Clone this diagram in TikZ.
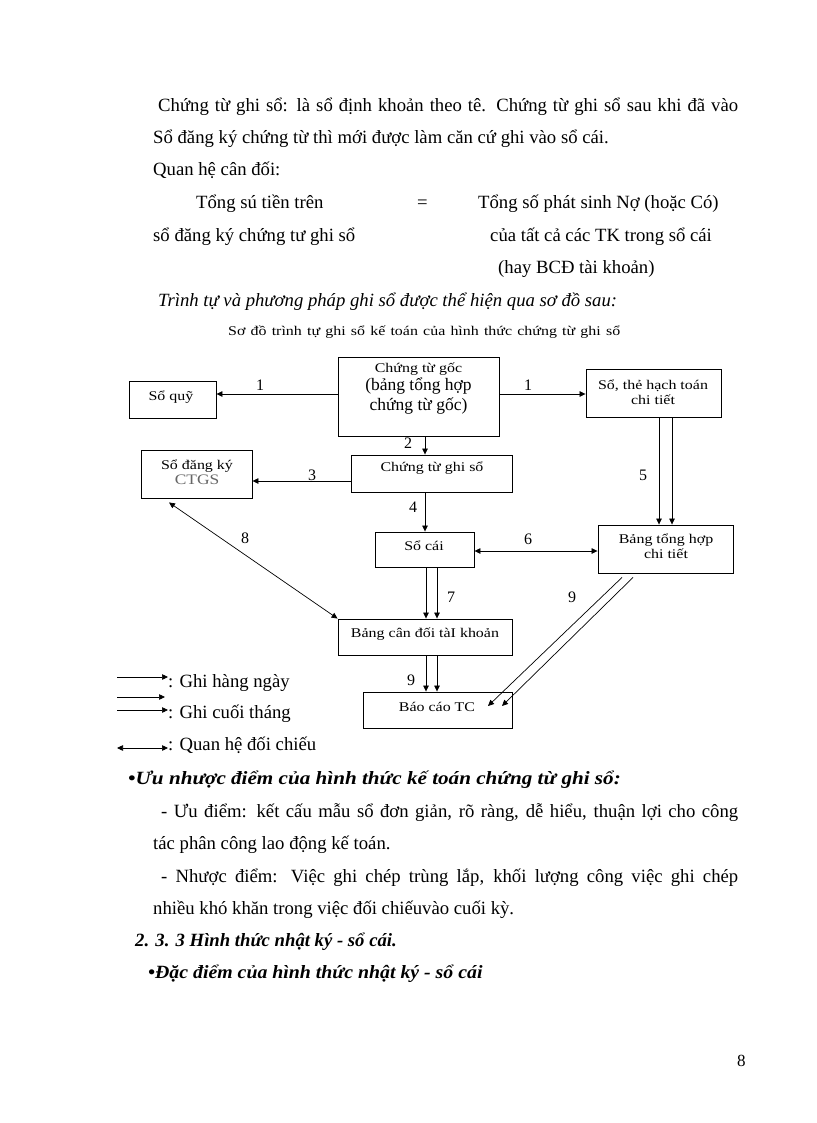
\documentclass[tikz,border=0pt]{standalone}
\usepackage{fontspec}
\setmainfont{Liberation Serif}
\newfontfamily\boxfont[FakeStretch=1.2]{Liberation Serif}
\usetikzlibrary{arrows.meta,positioning}
\newcommand\bodysize{\fontsize{18.7}{22}\selectfont}
\newcommand\smallsize{\boxfont\fontsize{13.3}{14.5}\selectfont}
\newcommand\bigsize{\fontspec{Liberation Serif}\fontsize{17.5}{17}\selectfont}

\begin{document}
\begin{tikzpicture}[x=1pt,y=-1pt,
    txt/.style={font=\bodysize,anchor=base west,inner sep=0pt},
    head/.style={font=\bodysize\bfseries\itshape,anchor=base west,inner sep=0pt},
    box/.style={draw,line width=0.9pt,inner sep=0pt},
    bt/.style={font=\smallsize,align=center,inner sep=0pt},
    num/.style={font=\fontsize{16}{16}\selectfont,inner sep=0pt},
    arr/.style={-{Triangle[length=6pt,width=5.5pt]},line width=0.7pt},
    both/.style={{Triangle[length=6pt,width=5.5pt]}-{Triangle[length=6pt,width=5.5pt]},line width=0.7pt}]
  \useasboundingbox[fill=white] (0,0) rectangle (816,1123);
  % Text above the chart
  \node[txt] (l1) at (158,112) {\makebox[580pt][s]{Chứng từ ghi sổ: là sổ định khoản theo tê. Chứng từ ghi sổ sau khi đã vào}};
  \node[txt] (l2) at (153,144) {Sổ đăng ký chứng từ thì mới được làm căn cứ ghi vào sổ cái.};
  \node[txt] (l3) at (153,176) {Quan hệ cân đối:};
  \node[txt] (l4a) at (196,209) {Tổng sú tiền trên};
  \node[txt] (l4e) at (417,209) {=};
  \node[txt] (l4b) at (478,209) {Tổng số phát sinh Nợ (hoặc Có)};
  \node[txt] (l5a) at (153,241) {sổ đăng ký chứng tư ghi sổ};
  \node[txt] (l5b) at (490,241) {của tất cả các TK trong sổ cái};
  \node[txt] (l6) at (498,273) {(hay BCĐ tài khoản)};
  \node[txt,font=\bodysize\itshape] (l7) at (158,306) {Trình tự và phương pháp ghi sổ được thể hiện qua sơ đồ sau:};
  \node[txt,font=\smallsize] (cap) at (228,335) {\makebox[392pt][s]{Sơ đồ trình tự ghi sổ kế toán của hình thức chứng từ ghi sổ}};
  % Boxes
  \node[box,minimum width=87,minimum height=37] (soquy) at (172.5,399.5) {};
  \node[box,minimum width=161,minimum height=79] (goc) at (418.5,396.5) {};
  \node[box,minimum width=135,minimum height=48] (chitiet) at (653.5,393) {};
  \node[box,minimum width=111,minimum height=48] (dangky) at (196.5,474) {};
  \node[box,minimum width=161,minimum height=37] (ctgs) at (431.5,473.5) {};
  \node[box,minimum width=99,minimum height=35] (socai) at (424.5,549.5) {};
  \node[box,minimum width=135,minimum height=48] (tonghop) at (665.5,549) {};
  \node[box,minimum width=174,minimum height=36] (bcdtk) at (425,637) {};
  \node[box,minimum width=149,minimum height=36] (baocao) at (437.5,710) {};
  % Box texts
  \node[bt] (tsoquy) at (171,397) {Sổ quỹ};
  \node[bt] (tgoc) at (418.5,389) {Chứng từ gốc\\[1pt]{\bigsize (bảng tổng hợp}\\[3pt]{\bigsize chứng từ gốc)}};
  \node[bt] (tchitiet) at (653,392) {Sổ, thẻ hạch toán\\chi tiết};
  \node[bt] (tdangky) at (197,472) {Sổ đăng ký\\{\fontsize{14.5}{15}\selectfont\color{black!60}CTGS}};
  \node[bt] (tctgs) at (432,468) {Chứng từ ghi sổ};
  \node[bt] (tsocai) at (424,546) {Sổ cái};
  \node[bt] (ttonghop) at (666,546) {Bảng tổng hợp\\chi tiết};
  \node[bt] (tbcdtk) at (425,634) {Bảng cân đối tàI khoản};
  \node[bt] (tbaocao) at (437,707) {Báo cáo TC};
  % Flows
  \draw[arr] ([yshift=2.5]goc.west) -- ([yshift=5.5]soquy.east);
  \draw[arr] ([yshift=2.5]goc.east) -- ([yshift=-1]chitiet.west);
  \draw[arr] ([xshift=6.5]goc.south) -- ([xshift=-6.5]ctgs.north);
  \draw[arr] ([yshift=-7.5]ctgs.west) -- ([yshift=-7]dangky.east);
  \draw[arr] ([xshift=-6.5]ctgs.south) -- ([xshift=0.5]socai.north);
  \draw[arr] ([xshift=5.5]chitiet.south) -- ([xshift=-6.5]tonghop.north);
  \draw[arr] ([xshift=18.5]chitiet.south) -- ([xshift=6.5]tonghop.north);
  \draw[both] ([yshift=-1.5]socai.east) -- ([yshift=-2]tonghop.west);
  \draw[arr] ([xshift=1.5]socai.south) -- ([xshift=1]bcdtk.north);
  \draw[arr] ([xshift=12.5]socai.south) -- ([xshift=12]bcdtk.north);
  \draw[both] ([xshift=-27.5,yshift=-4]dangky.south) -- (bcdtk.north west);
  \draw[arr] ([xshift=1]bcdtk.south) -- ([xshift=-11.5]baocao.north);
  \draw[arr] ([xshift=12]bcdtk.south) -- ([xshift=-0.5]baocao.north);
  \draw[arr] ([xshift=-43.5,yshift=-4]tonghop.south) -- ([xshift=50.5,yshift=4]baocao.center);
  \draw[arr] ([xshift=-32.5,yshift=-4]tonghop.south) -- ([xshift=64.5,yshift=4]baocao.center);
  % Numbers
  \node[num] (na) at (260,385) {1};
  \node[num] (nb) at (528,385) {1};
  \node[num] (nc) at (408,443) {2};
  \node[num] (nd) at (312,475) {3};
  \node[num] (ne) at (413,507) {4};
  \node[num] (nf) at (643,475) {5};
  \node[num] (ng) at (528,539) {6};
  \node[num] (nh) at (451,597) {7};
  \node[num] (ni) at (245,538) {8};
  \node[num] (nj) at (411,680) {9};
  \node[num] (nk) at (572,597) {9};
  % Legend
  \coordinate (g1s) at (117,677);
  \coordinate (g2s) at (117,697);
  \coordinate (g2e) at (165,697);
  \coordinate (g3s) at (117,710);
  \coordinate (g4s) at (117,748);
  \node[txt] (g1) at (168,687) {: Ghi hàng ngày};
  \node[txt] (g3) at (168,718) {: Ghi cuối tháng};
  \node[txt] (g4) at (168,750) {: Quan hệ đối chiếu};
  \draw[arr] (g1s) -- (g1s -| g1.west);
  \draw[arr] (g2s) -- (g2e);
  \draw[arr] (g3s) -- (g3s -| g3.west);
  \draw[both] (g4s) -- (g4s -| g4.west);
  % Text below the chart
  \node[head] (h1) at (128,784) {\scalebox{1.13}[1]{•Ưu nhược điểm của hình thức kế toán chứng từ ghi sổ:}};
  \node[txt] (b1) at (161,817) {\makebox[577pt][s]{- Ưu điểm: kết cấu mẫu sổ đơn giản, rõ ràng, dễ hiểu, thuận lợi cho công}};
  \node[txt] (b2) at (153,849) {tác phân công lao động kế toán.};
  \node[txt] (b3) at (161,882) {\makebox[577pt][s]{- Nhược điểm: Việc ghi chép trùng lắp, khối lượng công việc ghi chép}};
  \node[txt] (b4) at (153,914) {nhiều khó khăn trong việc đối chiếuvào cuối kỳ.};
  \node[head] (h2) at (135,946) {2. 3. 3 Hình thức nhật ký - sổ cái.};
  \node[head] (h3) at (148,978) {\scalebox{1.06}[1]{•Đặc điểm của hình thức nhật ký - sổ cái}};
  \node[txt,font=\fontsize{17}{17}\selectfont] (pg) at (737,1066) {8};
\end{tikzpicture}
\end{document}
